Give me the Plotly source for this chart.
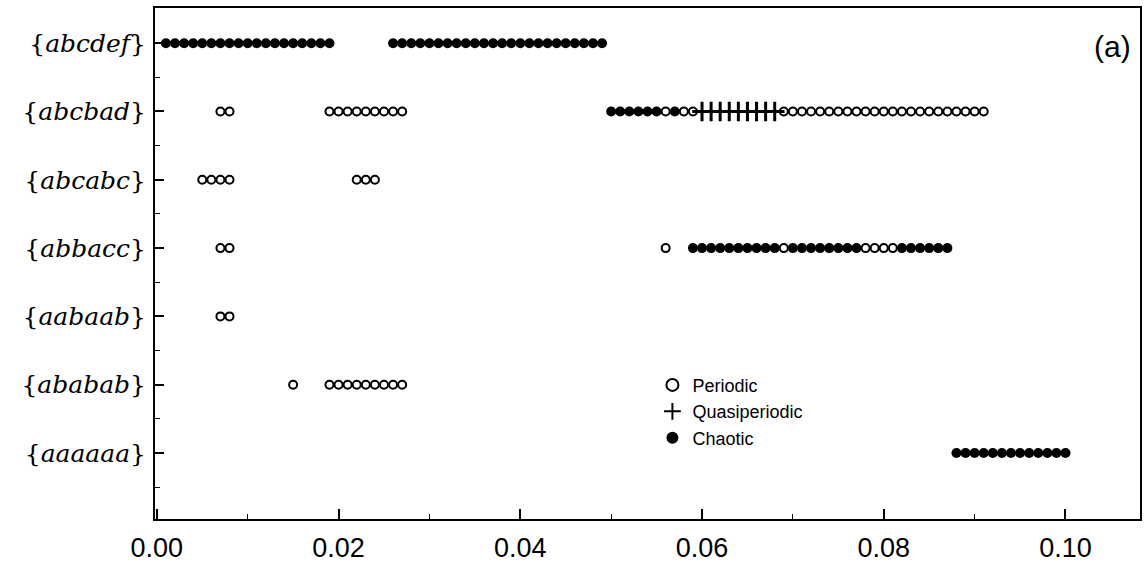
import plotly.graph_objects as go

# Row labels (bottom to top)
row_names = ["aaaaaa", "ababab", "aabaab", "abbacc", "abcabc", "abcbad", "abcdef"]
row_pos = [0, 1, 2, 3, 4, 5, 6]

# Periodic points: x values per row
per_abcbad = [0.007, 0.008, 0.019, 0.020, 0.021, 0.022, 0.023, 0.024, 0.025, 0.026, 0.027,
              0.056, 0.058, 0.059,
              0.069, 0.070, 0.071, 0.072, 0.073, 0.074, 0.075, 0.076, 0.077, 0.078, 0.079,
              0.080, 0.081, 0.082, 0.083, 0.084, 0.085, 0.086, 0.087, 0.088, 0.089, 0.090, 0.091]
per_abcabc = [0.005, 0.006, 0.007, 0.008, 0.022, 0.023, 0.024]
per_abbacc = [0.007, 0.008, 0.056, 0.069, 0.078, 0.079, 0.080, 0.081]
per_aabaab = [0.007, 0.008]
per_ababab = [0.015, 0.019, 0.020, 0.021, 0.022, 0.023, 0.024, 0.025, 0.026, 0.027]

# Quasiperiodic points
qua_abcbad = [0.060, 0.061, 0.062, 0.063, 0.064, 0.065, 0.066, 0.067, 0.068]

# Chaotic points
cha_abcdef = [0.001, 0.002, 0.003, 0.004, 0.005, 0.006, 0.007, 0.008, 0.009, 0.010,
              0.011, 0.012, 0.013, 0.014, 0.015, 0.016, 0.017, 0.018, 0.019,
              0.026, 0.027, 0.028, 0.029, 0.030, 0.031, 0.032, 0.033, 0.034, 0.035,
              0.036, 0.037, 0.038, 0.039, 0.040, 0.041, 0.042, 0.043, 0.044, 0.045,
              0.046, 0.047, 0.048, 0.049]
cha_abcbad = [0.050, 0.051, 0.052, 0.053, 0.054, 0.055, 0.057]
cha_abbacc = [0.059, 0.060, 0.061, 0.062, 0.063, 0.064, 0.065, 0.066, 0.067, 0.068,
              0.070, 0.071, 0.072, 0.073, 0.074, 0.075, 0.076, 0.077,
              0.082, 0.083, 0.084, 0.085, 0.086, 0.087]
cha_aaaaaa = [0.088, 0.089, 0.090, 0.091, 0.092, 0.093, 0.094, 0.095, 0.096, 0.097,
              0.098, 0.099, 0.100]

x_ticks = [0.00, 0.02, 0.04, 0.06, 0.08, 0.10]
x_tick_text = ["0.00", "0.02", "0.04", "0.06", "0.08", "0.10"]

pos = dict(zip(row_names, row_pos))

def flat(groups):
    xs, ys = [], []
    for name, vals in groups:
        xs += vals
        ys += [pos[name]] * len(vals)
    return xs, ys

px, py = flat([("abcbad", per_abcbad), ("abcabc", per_abcabc), ("abbacc", per_abbacc),
               ("aabaab", per_aabaab), ("ababab", per_ababab)])
qx, qy = flat([("abcbad", qua_abcbad)])
cx, cy = flat([("abcdef", cha_abcdef), ("abcbad", cha_abcbad), ("abbacc", cha_abbacc),
               ("aaaaaa", cha_aaaaaa)])

fig = go.Figure()
fig.add_trace(go.Scatter(x=px, y=py, mode="markers", name="Periodic",
                         marker=dict(symbol="circle-open", size=8, color="black",
                                     line=dict(width=2, color="black"))))
fig.add_trace(go.Scatter(x=qx, y=qy, mode="markers", name="Quasiperiodic",
                         marker=dict(symbol="cross-thin", size=14, color="black",
                                     line=dict(width=3, color="black"))))
fig.add_trace(go.Scatter(x=cx, y=cy, mode="markers", name="Chaotic",
                         marker=dict(symbol="circle", size=10, color="black")))

fig.update_layout(
    width=1145, height=562,
    margin=dict(l=155, r=5, t=8, b=43),
    paper_bgcolor="white", plot_bgcolor="white",
    showlegend=True,
    legend=dict(x=0.505, y=0.298, xanchor="left", yanchor="top",
                font=dict(family="Liberation Sans", size=18, color="black"),
                bgcolor="rgba(0,0,0,0)", tracegroupgap=0, itemsizing="constant"),
    annotations=[dict(text="(a)", x=0.993, y=0.925, xref="paper", yref="paper",
                      xanchor="right", yanchor="middle", showarrow=False,
                      font=dict(family="Liberation Sans", size=30, color="black"))],
)
fig.update_xaxes(
    range=[-0.0002, 0.1082], tickvals=x_ticks, ticktext=x_tick_text,
    ticks="inside", ticklen=10, tickwidth=1.5, tickcolor="black",
    minor=dict(dtick=0.01, tick0=0, ticks="inside", ticklen=5, tickcolor="black", tickwidth=1.2),
    showline=True, linewidth=2, linecolor="black", mirror=True,
    showgrid=False, zeroline=False, ticklabelstandoff=4, automargin=False,
    tickfont=dict(family="Liberation Sans", size=27, color="black"),
)
fig.update_yaxes(
    range=[-0.966, 6.515], tickvals=row_pos,
    ticktext=["{<i>%s</i>}" % n for n in row_names],
    ticks="inside", ticklen=9, tickwidth=1.5, tickcolor="black",
    minor=dict(tickvals=[-0.5, 0.5, 1.5, 2.5, 3.5, 4.5, 5.5], ticks="inside",
               ticklen=5, tickcolor="black", tickwidth=1.2),
    showline=True, linewidth=2, linecolor="black", mirror=True,
    showgrid=False, zeroline=False, ticklabelstandoff=2, automargin=False,
    tickfont=dict(family="DejaVu Serif", size=25, color="black"),
)

fig.write_html("out.html")
